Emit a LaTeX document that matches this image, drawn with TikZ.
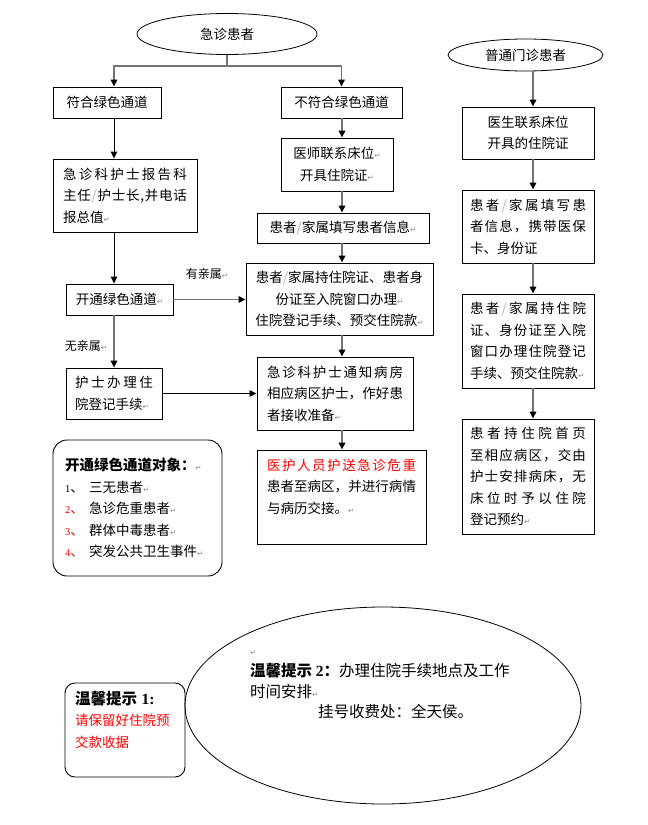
\documentclass[tikz,border=0pt]{standalone}
\usepackage{fontspec}
\setmainfont{Liberation Serif}
\newfontfamily\cjk{Noto Sans CJK SC}
\newfontfamily\symf{DejaVu Sans}
\usetikzlibrary{arrows.meta,shapes.geometric}
\newcommand\ret{{\symf\fontsize{7.5}{7.5}\selectfont\color{black!45}↵}}
\newcommand\slashg{{\color{black!30}/}}
\def\jlfirst#1{#1\jlrest}
\def\jlrest#1{\ifx#1\relax\else\hfil#1\expandafter\jlrest\fi}
\newcommand\jl[1]{\makebox[\linewidth][s]{\jlfirst#1\relax}}
\newcommand\itemno[2]{\makebox[24pt][l]{\color{#1}{\rmfamily\fontsize{10.5}{10.5}\selectfont #2}、}}

\begin{document}
\begin{tikzpicture}[x=1pt, y=-1pt,
    box/.style={draw, line width=0.9pt, inner xsep=9pt, inner ysep=2pt,
                font=\fontsize{13.5}{21.5}\selectfont\cjk},
    lbox/.style={box, align=left},
    cbox/.style={box, align=center},
    oval/.style={ellipse, draw, line width=0.8pt, inner sep=1pt,
                 font=\fontsize{13.5}{21.5}\selectfont\cjk},
    rbox/.style={draw, line width=0.9pt, rounded corners=14pt, align=left,
                 font=\fontsize{13.5}{21.5}\selectfont\cjk},
    lbl/.style={inner sep=1pt, font=\fontsize{12}{14}\selectfont\cjk},
    link/.style={draw=black!55, line width=1.6pt},
    arr/.style={link, -{Triangle[length=7pt,width=6.5pt,color=black]}},
    barr/.style={draw=black, line width=1pt, -{Triangle[length=7pt,width=6.5pt]}}]
  \useasboundingbox (0,0) rectangle (648,825);
  \coordinate (lcol) at (114,0); \coordinate (mcol) at (342,0); \coordinate (rcol) at (533,0);
  \node[oval, minimum width=180pt, minimum height=41pt] (jzhz) at (227,34) {急诊患者};
  \node[cbox, minimum width=108pt, minimum height=31pt] (fuhe) at (107,102.5) {符合绿色通道};
  \node[cbox, minimum width=121pt, minimum height=31pt] (bufuhe) at (341.5,102.5) {不符合绿色通道};
  \node[lbox, text width=124pt, inner xsep=10pt, minimum height=73pt] (bg) at (125,195.5)
    {\jl{急诊科护士报告科}\\\jl{主任\slashg 护士长,并电话}\\报总值\ret};
  \node[cbox, minimum width=107pt, minimum height=31pt] (kt) at (119.5,299.5) {开通绿色通道\ret};
  \node[lbox, text width=78pt, minimum height=51pt] (hs) at (114,393.5)
    {\jl{护士办理住}\\院登记手续\ret};
  \node[lbl] (yqs) at (207,274) {有亲属\ret};
  \node[lbl] (wqs) at (86,346) {无亲属\ret};
  \node[cbox, minimum width=112pt, minimum height=53pt] (ys) at (337,164.5)
    {医师联系床位\ret\\开具住院证\ret};
  \node[cbox, minimum width=172pt, minimum height=30pt] (tx) at (343,228)
    {患者\slashg 家属填写患者信息\ret};
  \node[cbox, minimum width=187pt, minimum height=72pt] (cz) at (339.5,299)
    {患者\slashg 家属持住院证、患者身\\份证至入院窗口办理\ret\\住院登记手续、预交住院款\ret};
  \node[lbox, text width=136pt, inner xsep=10pt, minimum height=73pt] (tz) at (335,393.5)
    {\jl{急诊科护士通知病房}\\\jl{相应病区护士，作好患}\\者接收准备\ret};
  \node[lbox, text width=149pt, inner xsep=10pt, minimum height=94pt] (hy) at (341.5,497)
    {{\color{red}\jl{医护人员护送急诊危重}}\\\jl{患者至病区，并进行病情}\\与病历交接。\ret\\\mbox{}};
  \node[oval, minimum width=155pt, minimum height=32pt] (mz) at (525.5,55) {普通门诊患者};
  \node[cbox, minimum width=132pt, minimum height=52pt] (ysr) at (528,133)
    {医生联系床位\\开具的住院证};
  \node[lbox, text width=116pt, inner xsep=8pt, minimum height=73pt] (txr) at (528,226.5)
    {\jl{患者\slashg 家属填写患}\\\jl{者信息，携带医保}\\卡、身份证};
  \node[lbox, text width=116pt, inner xsep=8pt, minimum height=94pt] (czr) at (528,341)
    {\jl{患者\slashg 家属持住院}\\\jl{证、身份证至入院}\\\jl{窗口办理住院登记}\\手续、预交住院款\ret};
  \node[lbox, text width=116pt, inner xsep=8pt, minimum height=115pt] (zyr) at (528,476.5)
    {\jl{患者持住院首页}\\\jl{至相应病区，交由}\\\jl{护士安排病床，无}\\\jl{床位时予以住院}\\登记预约\ret};
  \node[rbox, text width=145pt, inner xsep=12pt, minimum width=169pt, minimum height=136pt] (dx) at (137.5,508)
    {{\fontsize{14.5}{21.5}\selectfont\bfseries 开通绿色通道对象：}\ret\\
     \itemno{black}{1}三无患者\ret\\\itemno{red}{2}急诊危重患者\ret\\
     \itemno{red}{3}群体中毒患者\ret\\\itemno{red}{4}突发公共卫生事件\ret};
  \node[rbox, rounded corners=10pt, text width=100pt, inner xsep=10pt, minimum height=94pt] (ts1) at (125,730)
    {{\fontsize{15.5}{21}\selectfont\bfseries 温馨提示 {\rmfamily 1:}}\\
     {\color{red}请保留好住院预}\\{\color{red}交款收据}\\\mbox{}};
  \node[oval, minimum width=396pt, minimum height=197pt] (ts2) at (383,705.5) {};
  \node[anchor=north west, inner sep=0pt, align=left, font=\fontsize{15.5}{20.7}\selectfont\cjk] (ts2txt) at (250,641)
    {\strut\ret\\{\bfseries 温馨提示 {\rmfamily 2}：}办理住院手续地点及工作\\时间安排\ret\\
     \hspace*{68pt}挂号收费处：全天侯。};
  \draw[link] (jzhz.south) -- (jzhz.south |- 0,66) coordinate (fork);
  \draw[arr] (fork) -| (lcol |- fuhe.north); \draw[arr] (fork) -| (bufuhe.north);
  \draw[barr] (lcol |- fuhe.south) -- (lcol |- bg.north);
  \draw[barr] (lcol |- bg.south) -- (lcol |- kt.north);
  \draw[arr] (kt.east) -- (kt.east -| cz.west);
  \draw[arr] (lcol |- kt.south) -- (lcol |- hs.north);
  \draw[barr] (hs.east) -- (hs.east -| tz.west);
  \draw[arr] (mcol |- bufuhe.south) -- (mcol |- ys.north); \draw[arr] (mcol |- ys.south) -- (mcol |- tx.north);
  \draw[arr] (mcol |- tx.south) -- (mcol |- cz.north); \draw[arr] (mcol |- cz.south) -- (mcol |- tz.north);
  \draw[arr] (mcol |- tz.south) -- (mcol |- hy.north);
  \draw[arr] (rcol |- mz.south) -- (rcol |- ysr.north); \draw[arr] (rcol |- ysr.south) -- (rcol |- txr.north);
  \draw[arr] (rcol |- txr.south) -- (rcol |- czr.north); \draw[arr] (rcol |- czr.south) -- (rcol |- zyr.north);
\end{tikzpicture}
\end{document}
